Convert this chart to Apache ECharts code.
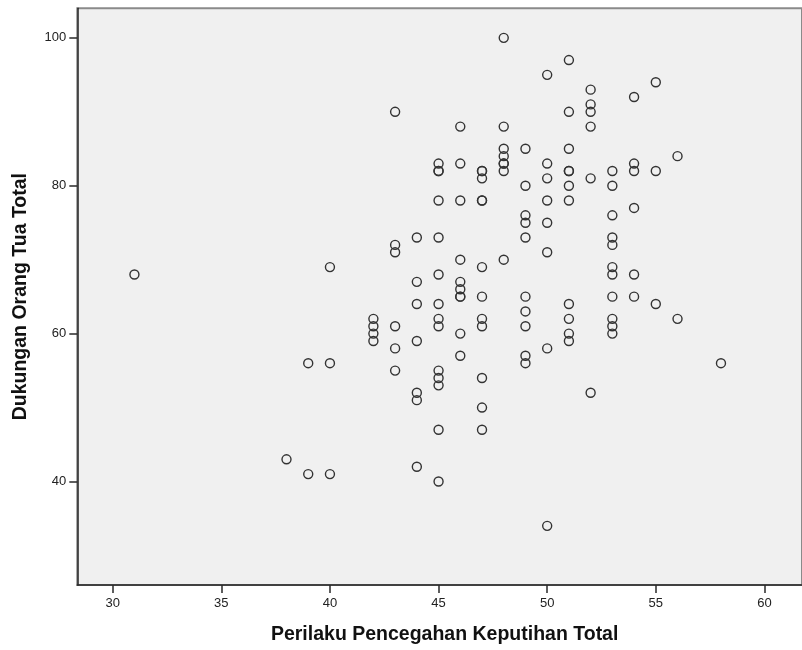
<!DOCTYPE html>
<html>
<head>
<meta charset="utf-8">
<script src="https://cdn.jsdelivr.net/npm/echarts@6/dist/echarts.min.js"></script>
<style>
html,body{margin:0;padding:0;background:#fff;}
#chart{width:802px;height:650px;}
</style>
</head>
<body>
<div id="chart"></div>
<script>
// Perilaku Pencegahan Keputihan Total (x) grouped, with Dukungan Orang Tua Total (y) values
const xGroups = [31, 38, 39, 40, 42, 43, 44, 45, 46, 47, 48, 49, 50, 51, 52, 53, 54, 55, 56, 58];
const yGroups = [
  [68],
  [43],
  [56, 41],
  [69, 56, 41],
  [62, 61, 60, 59],
  [90, 72, 71, 61, 58, 55],
  [73, 67, 64, 59, 52, 51, 42],
  [83, 82, 82, 78, 73, 68, 64, 62, 61, 55, 54, 53, 47, 40],
  [88, 83, 78, 70, 67, 66, 65, 65, 60, 57],
  [82, 82, 81, 78, 78, 69, 65, 62, 61, 54, 50, 47],
  [100, 88, 85, 84, 83, 83, 82, 70],
  [85, 80, 76, 75, 73, 65, 63, 61, 57, 56],
  [95, 83, 81, 78, 75, 71, 58, 34],
  [97, 90, 85, 82, 82, 80, 78, 64, 62, 60, 59],
  [93, 91, 90, 88, 81, 52],
  [82, 80, 76, 73, 72, 69, 68, 65, 62, 61, 60],
  [92, 83, 82, 77, 68, 65],
  [94, 82, 64],
  [84, 62],
  [56]
];
const xTicks = [30, 35, 40, 45, 50, 55, 60];
const yTicks = [40, 60, 80, 100];
const xTitle = 'Perilaku Pencegahan Keputihan Total';
const yTitle = 'Dukungan Orang Tua Total';

const points = [];
xGroups.forEach((x, i) => yGroups[i].forEach(y => points.push([x, y])));

const font = "'Liberation Sans', Arial, sans-serif";
const chart = echarts.init(document.getElementById('chart'), null, {renderer: 'canvas'});
chart.setOption({
  backgroundColor: '#ffffff',
  animation: false,
  grid: {
    left: 77.3, top: 8.3, width: 735, height: 578.7,
    show: true, backgroundColor: '#f0f0f0', borderColor: '#8a8a8a', borderWidth: 2
  },
  xAxis: {
    type: 'value', min: 28.37, max: 61.73,
    name: xTitle, nameLocation: 'middle', nameGap: 40,
    nameTextStyle: {fontFamily: font, fontWeight: 'bold', fontSize: 19.5, color: '#111', padding: [0, 0, 0, 10]},
    axisLine: {show: true, onZero: false, lineStyle: {color: '#2a2a2a', width: 1.5}},
    axisTick: {show: true, length: 8, customValues: xTicks, lineStyle: {color: '#2a2a2a', width: 1.5}},
    axisLabel: {customValues: xTicks, margin: 12, fontFamily: font, fontSize: 13, color: '#222'},
    splitLine: {show: false}
  },
  yAxis: {
    type: 'value', min: 26, max: 104,
    name: yTitle, nameLocation: 'middle', nameGap: 47, nameRotate: 90,
    nameTextStyle: {fontFamily: font, fontWeight: 'bold', fontSize: 19.5, color: '#111'},
    axisLine: {show: true, onZero: false, lineStyle: {color: '#2a2a2a', width: 1.5}},
    axisTick: {show: true, length: 8, customValues: yTicks, lineStyle: {color: '#2a2a2a', width: 1.5}},
    axisLabel: {customValues: yTicks, margin: 11, fontFamily: font, fontSize: 13, color: '#222'},
    splitLine: {show: false}
  },
  series: [{
    type: 'scatter',
    data: points,
    symbol: 'circle',
    symbolSize: 9,
    itemStyle: {color: 'rgba(0,0,0,0)', borderColor: '#333', borderWidth: 1.4, opacity: 1}
  }]
});
</script>
</body>
</html>
